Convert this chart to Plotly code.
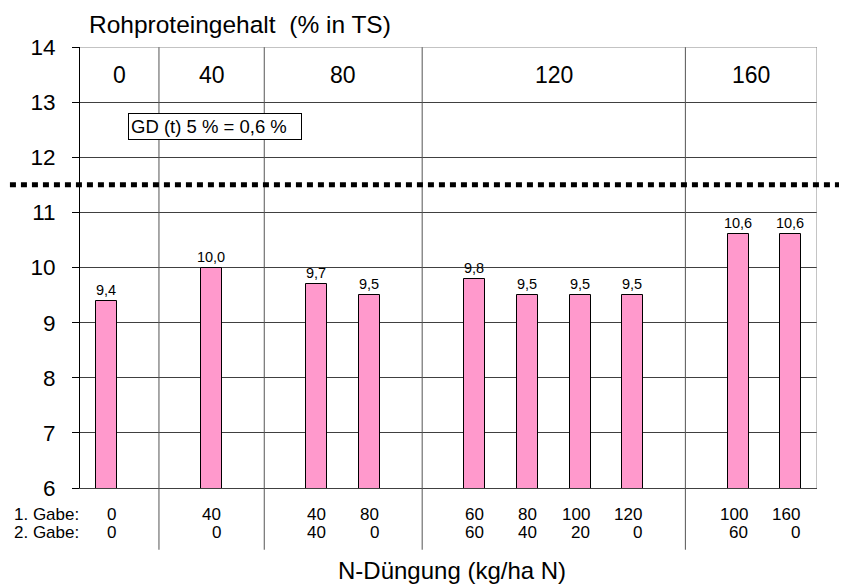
import plotly.graph_objects as go

# ---- data ----
bar_x = [0, 2, 4, 5, 7, 8, 9, 10, 12, 13]
protein = [9.4, 10.0, 9.7, 9.5, 9.8, 9.5, 9.5, 9.5, 10.6, 10.6]
gabe1 = ["0", "40", "40", "80", "60", "80", "100", "120", "100", "160"]
gabe2 = ["0", "0", "40", "0", "60", "40", "20", "0", "60", "0"]
group_labels = ["0", "40", "80", "120", "160"]
group_bounds = [-0.5, 1, 3, 6, 11, 13.5]
threshold = 11.5
y_ticks = [6, 7, 8, 9, 10, 11, 12, 13, 14]

FONT = "Liberation Sans, Arial, sans-serif"
GRID = "#404040"
ROW1_Y = -0.059
ROW2_Y = -0.102

fig = go.Figure()
fig.add_trace(go.Bar(
    x=bar_x, y=protein, width=0.4,
    marker=dict(color="#FF99CC", line=dict(color="black", width=1)),
    texttemplate="%{y:.1f}", textposition="outside", constraintext="none",
    textfont=dict(size=14.5, color="black", family=FONT),
    cliponaxis=False, showlegend=False, hoverinfo="skip",
))

shapes = []
# group separators extending below axis
for b in group_bounds[1:-1]:
    shapes.append(dict(type="line", xref="x", yref="paper", x0=b, x1=b, y0=-0.14, y1=1,
                       line=dict(color="#555555", width=1), layer="above"))
# right border
shapes.append(dict(type="line", xref="x", yref="paper", x0=group_bounds[-1], x1=group_bounds[-1],
                   y0=0, y1=1, line=dict(color="#888888", width=1)))
# top border
shapes.append(dict(type="line", xref="paper", yref="y", x0=0, x1=1, y0=14, y1=14,
                   line=dict(color="#888888", width=1)))
# dotted threshold line
shapes.append(dict(type="line", xref="paper", yref="y", x0=-0.11, x1=1.05, y0=threshold, y1=threshold,
                   line=dict(color="black", width=5, dash="6px,5px"), layer="above"))

annotations = []
for i, g in enumerate(group_labels):
    annotations.append(dict(x=(group_bounds[i] + group_bounds[i + 1]) / 2, y=13.5, xref="x", yref="y",
                            text=g, showarrow=False, font=dict(size=23, color="black", family=FONT)))
for x, a, b in zip(bar_x, gabe1, gabe2):
    annotations.append(dict(x=x + 0.22, y=ROW1_Y, xref="x", yref="paper", xanchor="right", yanchor="middle",
                            text=a, showarrow=False, font=dict(size=17, color="black", family=FONT)))
    annotations.append(dict(x=x + 0.22, y=ROW2_Y, xref="x", yref="paper", xanchor="right", yanchor="middle",
                            text=b, showarrow=False, font=dict(size=17, color="black", family=FONT)))
annotations.append(dict(x=-0.092, y=ROW1_Y, xref="paper", yref="paper", xanchor="left", yanchor="middle",
                        text="1. Gabe:", showarrow=False, font=dict(size=17, color="black", family=FONT)))
annotations.append(dict(x=-0.092, y=ROW2_Y, xref="paper", yref="paper", xanchor="left", yanchor="middle",
                        text="2. Gabe:", showarrow=False, font=dict(size=17, color="black", family=FONT)))
annotations.append(dict(x=0.009, y=1.05, xref="paper", yref="paper", xanchor="left", yanchor="middle",
                        text="Rohproteingehalt  (% in TS)", showarrow=False,
                        font=dict(size=24.5, color="black", family=FONT)))
annotations.append(dict(x=0.505, y=-0.188, xref="paper", yref="paper", xanchor="center", yanchor="middle",
                        text="N-Düngung (kg/ha N)", showarrow=False,
                        font=dict(size=24, color="black", family=FONT)))
annotations.append(dict(x=2.064, y=12.55, xref="x", yref="y", text="GD (t) 5 % = 0,6 %", showarrow=False,
                        width=168, align="left",
                        font=dict(size=18.5, color="black", family=FONT), bgcolor="white",
                        bordercolor="black", borderwidth=1, borderpad=2))

# the page adds an 8px body margin; size/margins compensate so the plot area lands at 80..817 x 47..488
fig.update_layout(
    width=839, height=580,
    margin=dict(l=72, r=30, t=39, b=100),
    paper_bgcolor="white", plot_bgcolor="white",
    separators=",.",
    font=dict(family=FONT, color="black"),
    shapes=shapes, annotations=annotations,
    xaxis=dict(range=[-0.5, 13.5], showticklabels=False, showgrid=False, zeroline=False,
               showline=True, linecolor="#404040", linewidth=1, ticks=""),
    yaxis=dict(range=[6, 14], tickvals=y_ticks, showgrid=True, gridcolor=GRID, gridwidth=1,
               zeroline=False, showline=True, linecolor="black", linewidth=1,
               ticks="outside", ticklen=7, tickcolor="black", ticklabelstandoff=12,
               tickfont=dict(size=22.5, color="black", family=FONT)),
    bargap=0,
)

fig.write_html("out.html")
